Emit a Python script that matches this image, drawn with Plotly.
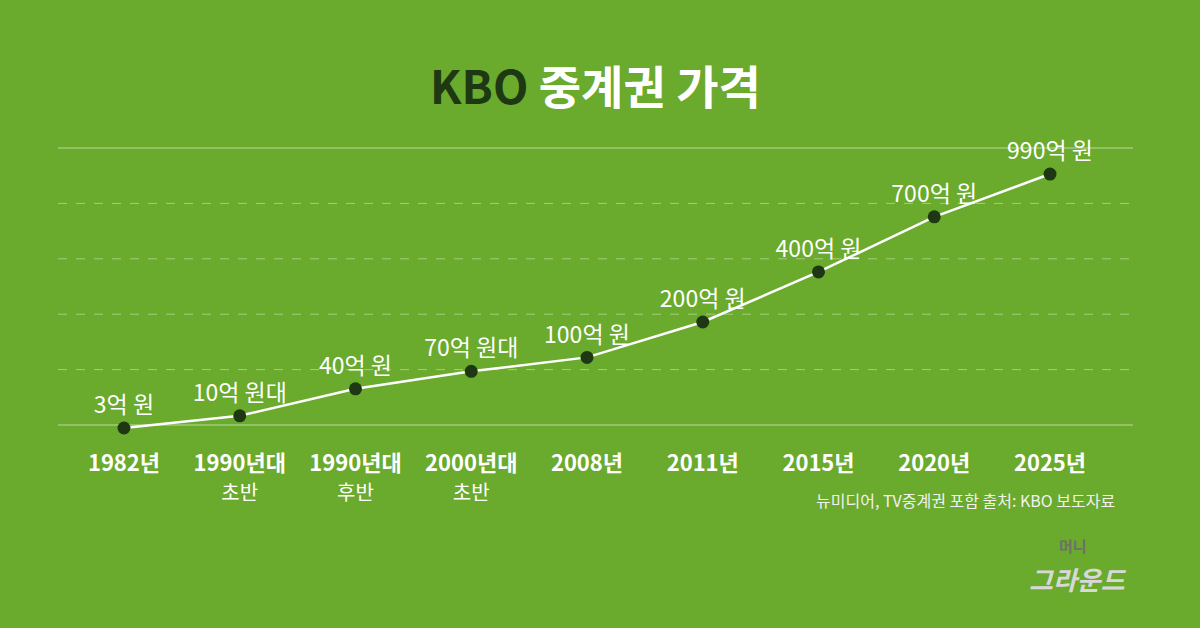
import numpy as np
import plotly.graph_objects as go

# 데이터 (단위: 억 원)
years = ['1982년', '1990년대 초반', '1990년대 후반', '2000년대 초반',
         '2008년', '2011년', '2015년', '2020년', '2025년']
tick_main = ['1982년', '1990년대', '1990년대', '2000년대',
             '2008년', '2011년', '2015년', '2020년', '2025년']
tick_sub = ['', '초반', '후반', '초반', '', '', '', '', '']
prices = [3, 10, 40, 70, 100, 200, 400, 700, 990]
price_labels = ['3억 원', '10억 원대', '40억 원', '70억 원대', '100억 원',
                '200억 원', '400억 원', '700억 원', '990억 원']

BG = '#6aaa2c'
DARK = '#1d3812'
FONT = 'Noto Sans CJK KR'

# 원본 그래프처럼 제곱근 스케일로 표시
y_vals = np.sqrt(prices)

fig = go.Figure()
fig.add_trace(go.Scatter(
    x=years, y=y_vals,
    mode='lines+markers+text',
    line=dict(color='white', width=2.5),
    marker=dict(color=DARK, size=13, symbol='circle'),
    text=price_labels,
    textposition='top center',
    textfont=dict(family=FONT, size=23, color='white'),
    cliponaxis=False,
    hoverinfo='skip',
))

ticktext = []
for m, s in zip(tick_main, tick_sub):
    if s:
        ticktext.append(f"<b>{m}</b><br><span style='font-size:20px'>{s}</span>")
    else:
        ticktext.append(f"<b>{m}</b>")

# 가로 격자선 (위/아래 실선, 가운데 점선)
grid_px = [148, 203.4, 258.8, 314.2, 369.6, 425]
for i, p in enumerate(grid_px):
    solid = i in (0, len(grid_px) - 1)
    fig.add_shape(type='line', xref='paper', yref='paper',
                  x0=0, x1=1, y0=(440 - p) / 300, y1=(440 - p) / 300,
                  line=dict(color='rgba(255,255,255,0.55)' if solid else 'rgba(255,255,255,0.4)',
                            width=1.2 if solid else 1,
                            dash='solid' if solid else 'dash'),
                  layer='below')

fig.update_layout(
    width=1200, height=628,
    paper_bgcolor=BG, plot_bgcolor=BG,
    margin=dict(l=58, r=67, t=140, b=188),
    showlegend=False,
    font=dict(family=FONT, color='white'),
    xaxis=dict(
        type='category', range=[-0.57, 8.717],
        tickvals=years, ticktext=ticktext,
        tickfont=dict(family=FONT, size=22, color='white'),
        showgrid=False, zeroline=False, showline=False, ticks='',
        ticklabelstandoff=8,
    ),
    yaxis=dict(range=[0.328, 35.45], visible=False),
)

# 제목
fig.add_annotation(
    xref='paper', yref='paper', x=0.5, y=1,
    xanchor='center', yanchor='bottom', yshift=21,
    text=f"<b><span style='color:{DARK}'>KBO</span> 중계권 가격</b>",
    showarrow=False, font=dict(family=FONT, size=46, color='white'),
)
fig.add_annotation(
    xref='paper', yref='paper', x=1, y=-0.2, xanchor='right', yanchor='middle',
    xshift=-16,
    text='뉴미디어, TV중계권 포함 출처: KBO 보도자료', showarrow=False,
    font=dict(family=FONT, size=16, color='#f2f2f2'),
)
fig.add_annotation(
    xref='paper', yref='paper', x=1, y=-0.46, xanchor='right', yanchor='middle',
    xshift=-4,
    text='<b><i>그라운드</i></b>', showarrow=False,
    font=dict(family=FONT, size=26, color='#d8d8d8'),
)
fig.add_annotation(
    xref='paper', yref='paper', x=1, y=-0.35, xanchor='right', yanchor='middle',
    xshift=-44,
    text='<b>머니</b>', showarrow=False,
    font=dict(family=FONT, size=15, color='#6f6f6f'),
)

fig.write_html('out.html', config={'displayModeBar': False},
               post_script="document.body.style.margin='0';")
